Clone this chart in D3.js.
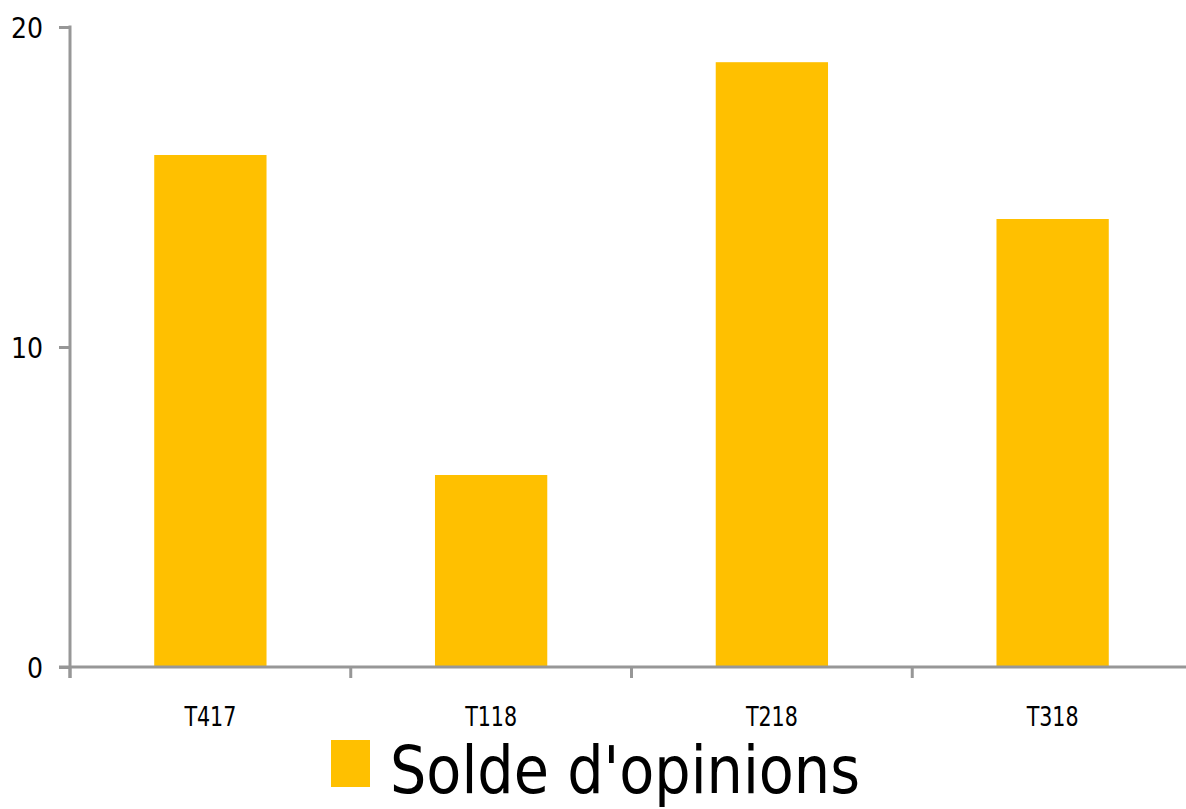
<!DOCTYPE html>
<html>
<head>
<meta charset="utf-8">
<script src="https://cdnjs.cloudflare.com/ajax/libs/d3/7.8.5/d3.min.js"></script>
<style>
  body { margin: 0; background: #fff; }
  svg text { font-family: "Liberation Sans Narrow", "DejaVu Sans Condensed", "Liberation Sans", sans-serif; fill: #000; }
</style>
</head>
<body>
<div class="chart"></div>
<script>
var categories = ["T417", "T118", "T218", "T318"];
var values = [16, 6, 18.9, 14];
var yTicks = [0, 10, 20];
var seriesName = "Solde d'opinions";

var svgWidth = 1186;
var svgHeight = 809;
var axisColor = "#979797";
var barColor = "#FFC000";

var svg = d3
  .select(".chart")
  .append("svg")
  .attr("width", svgWidth)
  .attr("height", svgHeight);

var xScale = d3.scaleBand()
  .domain(categories)
  .range([70, 1193])
  .paddingInner(0.6)
  .paddingOuter(0.3);

var yScale = d3.scaleLinear().domain([0, 20]).range([667, 27]);

// bars
svg.selectAll("rect.bar")
  .data(values)
  .enter()
  .append("rect")
  .attr("class", "bar")
  .attr("x", function(d, i) { return xScale(categories[i]); })
  .attr("width", xScale.bandwidth())
  .attr("y", function(d) { return yScale(d); })
  .attr("height", function(d) { return yScale(0) - yScale(d); })
  .attr("fill", barColor);

// y axis
var leftAxis = d3.axisLeft(yScale).tickValues(yTicks).tickSize(11).tickPadding(16);
var yAxisG = svg.append("g")
  .attr("transform", "translate(70,0)")
  .call(leftAxis);
yAxisG.select(".domain").remove();
yAxisG.selectAll(".tick line").attr("stroke", axisColor).attr("stroke-width", 3);
yAxisG.selectAll(".tick text")
  .style("font-size", "28px")
  .attr("dy", "0.36em");
svg.append("line")
  .attr("x1", 70).attr("x2", 70)
  .attr("y1", yScale(20) - 1.5).attr("y2", 678)
  .attr("stroke", axisColor).attr("stroke-width", 3);

// x axis
svg.append("line")
  .attr("x1", 59).attr("x2", svgWidth)
  .attr("y1", yScale(0)).attr("y2", yScale(0))
  .attr("stroke", axisColor).attr("stroke-width", 3);

var step = xScale.step();
var boundaries = categories.map(function(c) { return xScale(c) - step * 0.3; });
svg.selectAll("line.xtick")
  .data(boundaries)
  .enter()
  .append("line")
  .attr("class", "xtick")
  .attr("x1", function(d) { return d; })
  .attr("x2", function(d) { return d; })
  .attr("y1", yScale(0))
  .attr("y2", 678)
  .attr("stroke", axisColor)
  .attr("stroke-width", 3);

svg.selectAll("text.xlabel")
  .data(categories)
  .enter()
  .append("text")
  .attr("class", "xlabel")
  .attr("x", function(d) { return xScale(d) + xScale.bandwidth() / 2; })
  .attr("y", 726)
  .attr("textLength", 52)
  .attr("lengthAdjust", "spacingAndGlyphs")
  .style("font-size", "26px")
  .text(function(d) { return d; })
  .attr("text-anchor", "middle");

// legend
svg.append("rect")
  .attr("x", 331).attr("y", 740)
  .attr("width", 39).attr("height", 47)
  .attr("fill", barColor);
svg.append("text")
  .attr("x", 390)
  .attr("y", 793)
  .attr("textLength", 470)
  .attr("lengthAdjust", "spacingAndGlyphs")
  .style("font-size", "65px")
  .text(seriesName);
</script>
</body>
</html>
